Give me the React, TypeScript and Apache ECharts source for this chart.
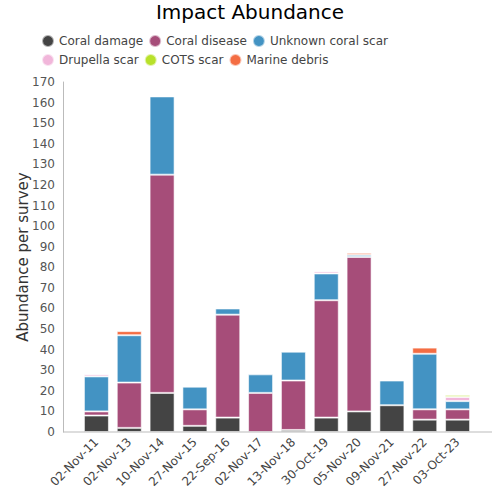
import React, { useEffect, useRef } from "react";
import * as echarts from "echarts";

const categories = [
  "02-Nov-11", "02-Nov-13", "10-Nov-14", "27-Nov-15", "22-Sep-16", "02-Nov-17",
  "13-Nov-18", "30-Oct-19", "05-Nov-20", "09-Nov-21", "27-Nov-22", "03-Oct-23",
];
const coralDamage = [8, 2, 19, 3, 7, 0, 1, 7, 10, 13, 6, 6];
const coralDisease = [2, 22, 106, 8, 50, 19, 24, 57, 75, 0, 5, 5];
const unknownScar = [17, 23, 38, 11, 3, 9, 14, 13, 1, 12, 27, 4];
const drupellaScar = [1, 0, 0, 0, 0, 0, 0, 1, 0, 0, 0, 2];
const cotsScar = [0, 0, 0, 0, 0, 0, 0, 0, 0, 0, 0, 1];
const marineDebris = [0, 2, 0, 0, 0, 0, 0, 0, 1, 0, 3, 0];

const seriesDefs = [
  { name: "Coral damage", data: coralDamage, color: "#444444" },
  { name: "Coral disease", data: coralDisease, color: "#a64d79" },
  { name: "Unknown coral scar", data: unknownScar, color: "#4393c3" },
  { name: "Drupella scar", data: drupellaScar, color: "#f1b6da" },
  { name: "COTS scar", data: cotsScar, color: "#b8e12a" },
  { name: "Marine debris", data: marineDebris, color: "#f46d43" },
];

const FONT = "DejaVu Sans";

export default function App() {
  const ref = useRef<HTMLDivElement>(null);
  useEffect(() => {
    if (!ref.current) return;
    const chart = echarts.init(ref.current, undefined, { renderer: "svg" });
    chart.setOption({
      animation: false,
      textStyle: { fontFamily: FONT },
      title: {
        text: "Impact Abundance",
        left: "center",
        top: -3,
        textStyle: { fontFamily: FONT, fontSize: 20, fontWeight: "normal", color: "#000" },
      },
      legend: {
        left: 36,
        top: 29,
        width: 384,
        icon: "circle",
        itemWidth: 12,
        itemHeight: 12,
        itemGap: 5,
        textStyle: { fontFamily: FONT, fontSize: 12, color: "#444" },
        data: seriesDefs.map((s) => s.name),
      },
      grid: { left: 80, right: 26, top: 82, bottom: 68 },
      graphic: [
        {
          type: "line",
          shape: { x1: 63, y1: 432, x2: 492, y2: 432 },
          style: { stroke: "#bbbbbb", lineWidth: 1 },
          z: 10,
        },
      ],
      xAxis: {
        type: "category",
        data: categories,
        axisLine: { show: false },
        axisTick: { show: false },
        axisLabel: {
          rotate: 45,
          fontFamily: FONT,
          fontSize: 12,
          color: "#444",
          margin: 8,
          interval: 0,
        },
      },
      yAxis: {
        type: "value",
        min: 0,
        max: 170,
        interval: 10,
        offset: 17,
        name: "Abundance per survey",
        nameLocation: "middle",
        nameGap: 33,
        nameMoveOverlap: false,
        nameTextStyle: { fontFamily: FONT, fontSize: 15, color: "#333" },
        axisLine: { show: true, lineStyle: { color: "#bbbbbb" } },
        axisTick: { show: false },
        splitLine: { show: false },
        axisLabel: { fontFamily: FONT, fontSize: 12, color: "#555", margin: 8 },
      },
      series: seriesDefs.map((s) => ({
        name: s.name,
        type: "bar",
        stack: "total",
        barWidth: 25,
        data: s.data.map((v) => (v === 0 ? null : v)),
        itemStyle: {
          color: s.color,
          borderColor: "rgba(255,255,255,0.6)",
          borderWidth: 1,
        },
      })),
    });
    return () => chart.dispose();
  }, []);
  return (
    <div
      ref={ref}
      style={{ position: "fixed", left: 0, top: 0, width: 500, height: 500, background: "#fff" }}
    />
  );
}
